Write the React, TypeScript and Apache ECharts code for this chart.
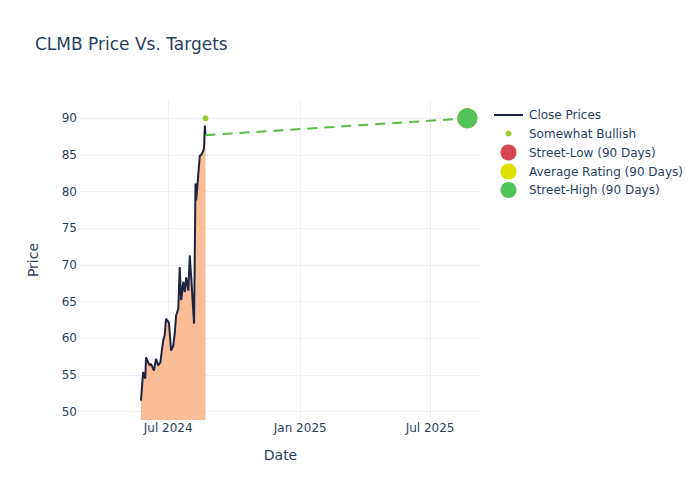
import React, { useEffect, useRef } from "react";
import * as echarts from "echarts";

const priceDates = [
  "2024-05-24", "2024-05-27", "2024-05-30", "2024-05-31", "2024-06-05", "2024-06-07",
  "2024-06-11", "2024-06-14", "2024-06-17", "2024-06-20", "2024-06-24", "2024-06-26",
  "2024-06-28", "2024-07-02", "2024-07-05", "2024-07-08", "2024-07-10", "2024-07-12",
  "2024-07-15", "2024-07-17", "2024-07-19", "2024-07-22", "2024-07-24", "2024-07-26",
  "2024-07-29", "2024-07-31", "2024-08-02", "2024-08-06", "2024-08-08", "2024-08-09",
  "2024-08-12", "2024-08-14", "2024-08-16", "2024-08-19", "2024-08-20", "2024-08-21",
  "2024-08-22",
];
const closePrices = [
  51.5, 55.4, 54.5, 57.4, 56.3, 56.5,
  55.6, 57.2, 56.3, 56.7, 59.7, 60.4,
  62.7, 62.1, 58.3, 59.0, 60.6, 63.1,
  64.0, 69.7, 65.2, 67.7, 66.3, 68.3,
  66.5, 71.3, 68.3, 62.0, 81.1, 78.8,
  82.5, 84.9, 85.0, 85.6, 86.1, 89.0,
  87.7,
];

const ratingDate = "2024-08-22";
const somewhatBullishValue = 90;
const targetDate = "2025-08-22";
const streetLow = 90;
const averageRating = 90;
const streetHigh = 90;

const yTicks = [50, 55, 60, 65, 70, 75, 80, 85, 90];
const xTickDates = ["2024-07-01", "2025-01-01", "2025-07-01"];
const months = ["Jan", "Feb", "Mar", "Apr", "May", "Jun", "Jul", "Aug", "Sep", "Oct", "Nov", "Dec"];

const FONT = "DejaVu Sans, Verdana, sans-serif";
const TXT = "#2a3f5f";
const GRID = "#EBF0F8";
const RED = "#D64550";
const YELLOW = "#E1E100";
const GREEN = "#50C35A";
const LIGHTGREEN = "#9ACD32";
const DASHGREEN = "#5CB946";

export default function App() {
  const ref = useRef<HTMLDivElement>(null);
  useEffect(() => {
    if (!ref.current) return;
    const chart = echarts.init(ref.current, null, { renderer: "svg" });
    const toTs = (s: string) => new Date(s + "T00:00:00").getTime();
    const xTickTs = xTickDates.map(toTs);
    const lastDate = priceDates[priceDates.length - 1];
    const lastPrice = closePrices[closePrices.length - 1];

    const legendItems = [
      { name: "Close Prices", kind: "line" },
      { name: "Somewhat Bullish", kind: "dot", color: LIGHTGREEN, r: 3 },
      { name: "Street-Low (90 Days)", kind: "dot", color: RED, r: 8 },
      { name: "Average Rating (90 Days)", kind: "dot", color: YELLOW, r: 8 },
      { name: "Street-High (90 Days)", kind: "dot", color: GREEN, r: 8 },
    ];
    const legendY = [115, 133.5, 152.5, 171.5, 190];
    const legendGraphics: any[] = [];
    legendItems.forEach((it: any, i) => {
      const y = legendY[i];
      if (it.kind === "line") {
        legendGraphics.push({
          type: "line",
          shape: { x1: 494, y1: y, x2: 523, y2: y },
          style: { stroke: "#1b2440", lineWidth: 2 },
        });
      } else {
        legendGraphics.push({
          type: "circle",
          shape: { cx: 508.5, cy: y, r: it.r },
          style: { fill: it.color },
        });
      }
      legendGraphics.push({
        type: "text",
        x: 529,
        y: y,
        style: {
          text: it.name,
          fill: TXT,
          font: `12px ${FONT}`,
          verticalAlign: "middle",
          align: "left",
        },
      });
    });

    chart.setOption({
      animation: false,
      backgroundColor: "#ffffff",
      textStyle: { fontFamily: FONT },
      title: {
        text: "CLMB Price Vs. Targets",
        left: 30,
        top: 30,
        textStyle: { color: TXT, fontSize: 17, fontWeight: "normal", fontFamily: FONT },
      },
      grid: { left: 80, right: 219, top: 100, bottom: 80, containLabel: false },
      xAxis: {
        type: "value",
        min: toTs("2024-02-29"),
        max: toTs("2025-09-10"),
        name: "Date",
        nameLocation: "middle",
        nameGap: 28,
        nameTextStyle: { color: TXT, fontSize: 14, fontFamily: FONT },
        axisLine: { show: false },
        axisTick: { show: false, customValues: xTickTs },
        axisLabel: {
          customValues: xTickTs,
          color: TXT,
          fontSize: 12,
          fontFamily: FONT,
          margin: 2,
          formatter: (v: number) => {
            const d = new Date(v);
            return months[d.getMonth()] + " " + d.getFullYear();
          },
        },
        splitLine: { show: true, lineStyle: { color: GRID, width: 1 } },
      },
      yAxis: {
        type: "value",
        min: 48.85,
        max: 92.5,
        name: "Price",
        nameLocation: "middle",
        nameGap: 40,
        nameTextStyle: { color: TXT, fontSize: 14, fontFamily: FONT },
        axisLine: { show: false },
        axisTick: { show: false, customValues: yTicks },
        axisLabel: {
          customValues: yTicks,
          color: TXT,
          fontSize: 12,
          fontFamily: FONT,
          margin: 3,
        },
        splitLine: { show: true, lineStyle: { color: GRID, width: 1 } },
      },
      series: [
        {
          name: "Close Prices",
          type: "line",
          data: priceDates.map((d, i) => [toTs(d), closePrices[i]]),
          showSymbol: false,
          symbol: "none",
          lineStyle: { color: "#1b2440", width: 2 },
          itemStyle: { color: "#1b2440" },
          areaStyle: { color: "#FABD98", opacity: 1 },
          z: 2,
        },
        {
          name: "Target Line",
          type: "line",
          data: [
            [toTs(lastDate), lastPrice],
            [toTs(targetDate), streetHigh],
          ],
          showSymbol: false,
          symbol: "none",
          lineStyle: { color: DASHGREEN, width: 2, type: [10, 7] },
          z: 3,
        },
        {
          name: "Somewhat Bullish",
          type: "scatter",
          data: [[toTs(ratingDate), somewhatBullishValue]],
          symbolSize: 6,
          itemStyle: { color: LIGHTGREEN, opacity: 1 },
          z: 4,
        },
        {
          name: "Street-Low (90 Days)",
          type: "scatter",
          data: [[toTs(targetDate), streetLow]],
          symbolSize: 20,
          itemStyle: { color: RED, opacity: 1 },
          z: 4,
        },
        {
          name: "Average Rating (90 Days)",
          type: "scatter",
          data: [[toTs(targetDate), averageRating]],
          symbolSize: 20,
          itemStyle: { color: YELLOW, opacity: 1 },
          z: 5,
        },
        {
          name: "Street-High (90 Days)",
          type: "scatter",
          data: [[toTs(targetDate), streetHigh]],
          symbolSize: 20,
          itemStyle: { color: GREEN, opacity: 1 },
          z: 6,
        },
      ],
      graphic: legendGraphics,
    });
    return () => chart.dispose();
  }, []);
  return <div ref={ref} style={{ width: 700, height: 500, margin: -8 }} />;
}
